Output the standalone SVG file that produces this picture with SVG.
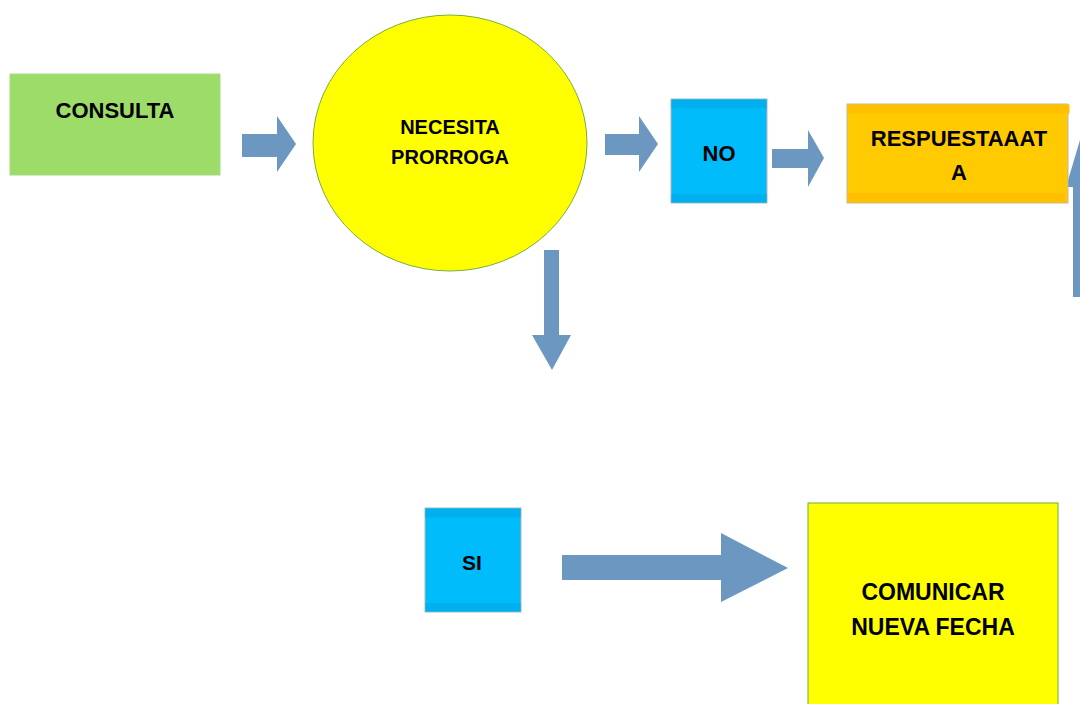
<svg xmlns="http://www.w3.org/2000/svg" width="1080" height="704" viewBox="0 0 1080 704">
<style>
text{font-family:"Liberation Sans",Arial,sans-serif;font-weight:bold;fill:#000;text-anchor:middle}
.arrow{fill:#6B97C1}
.box{stroke:#B8B8B8;stroke-width:1}
</style>
<rect width="1080" height="704" fill="#fff"/>
<g id="connectors">
<polygon class="arrow" points="242,134 277,134 277,116 296,144 277,172 277,157 242,157"/>
<polygon class="arrow" points="605,134 639,134 639,116 658,144 639,172 639,155 605,155"/>
<polygon class="arrow" points="772,149 808,149 808,130 824,158 808,187 808,168 772,168"/>
<polygon class="arrow" points="544,250 559,250 559,335 571,335 552,370 532,335 544,335"/>
<polygon class="arrow" points="562,555 721,555 721,533 788,568 721,602 721,580 562,580"/>
<polygon class="arrow" points="1073,297 1073,187 1066,187 1083,130 1100,187 1093,187 1093,297"/>
</g>
<g id="consulta">
<rect x="10" y="74" width="210" height="101" fill="#9DDC68" stroke="#A8D98A" stroke-width="1"/>
<text x="115" y="118" font-size="22">CONSULTA</text>
</g>
<g id="necesita">
<ellipse cx="450" cy="143" rx="137" ry="128" fill="#FFFF00" stroke="#7AAE3A" stroke-width="1"/>
<text x="450" y="134" font-size="20">NECESITA</text>
<text x="450" y="164" font-size="20">PRORROGA</text>
</g>
<g id="no">
<rect class="box" x="671" y="99" width="96" height="104" fill="#00BCFA"/>
<rect x="671.5" y="99.5" width="95" height="9" fill="#00B0EE"/>
<rect x="671.5" y="194" width="95" height="8.5" fill="#00B0EE"/>
<text x="719" y="161" font-size="22">NO</text>
</g>
<g id="respuesta">
<rect class="box" x="847" y="104" width="221" height="99" fill="#FFCA00"/>
<rect x="847.5" y="104.5" width="222" height="9" fill="#FFC000"/>
<rect x="847.5" y="193" width="218" height="9.5" fill="#FFC000"/>
<text x="959" y="146" font-size="22">RESPUESTAAAT</text>
<text x="959" y="180" font-size="22">A</text>
</g>
<g id="si">
<rect class="box" x="425" y="508" width="96" height="104" fill="#00BCFA"/>
<rect x="425.5" y="508.5" width="95" height="9" fill="#00B0EE"/>
<rect x="425.5" y="603" width="95" height="8.5" fill="#00B0EE"/>
<text x="472" y="570" font-size="21">SI</text>
</g>
<g id="comunicar">
<rect x="808" y="503" width="250" height="205" fill="#FFFF00" stroke="#6AAE3A" stroke-width="1"/>
<text x="933" y="600" font-size="23">COMUNICAR</text>
<text x="933" y="635" font-size="23">NUEVA FECHA</text>
</g>
</svg>
